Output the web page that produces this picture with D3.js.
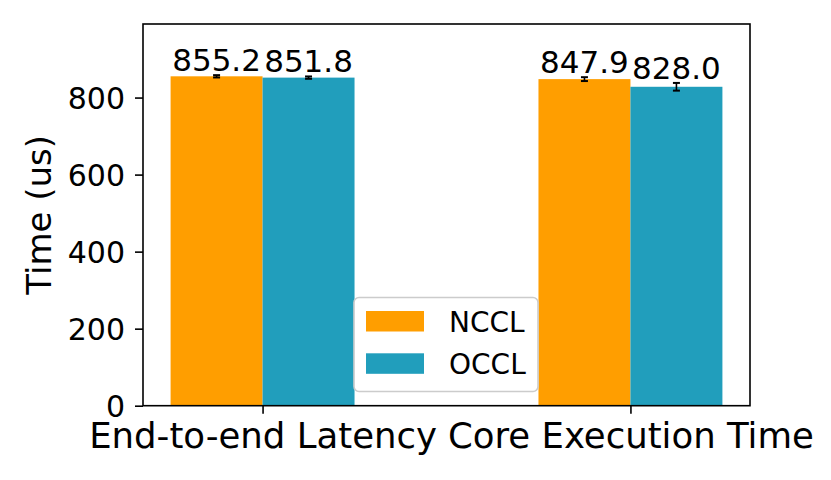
<!DOCTYPE html>
<html>
<head>
<meta charset="utf-8">
<script src="https://cdn.jsdelivr.net/npm/d3@7"></script>
<style>
  body { margin: 0; background: #fff; }
  svg { display: block; font-family: "DejaVu Sans", sans-serif; }
</style>
</head>
<body>
<div id="chart"></div>
<script>
// ---- Data -------------------------------------------------------------
const categories = ['End-to-end Latency', 'Core Execution Time'];
const seriesNames = ['NCCL', 'OCCL'];
const seriesColors = ['#ff9e00', '#219ebc'];
const nccl = [855.2, 847.9];
const ncclErr = [3, 5];
const occl = [851.8, 828.0];
const occlErr = [3, 10];
const yTicks = [0, 200, 400, 600, 800];

const series = [
  { name: seriesNames[0], color: seriesColors[0], values: nccl, errs: ncclErr, offset: -0.125 },
  { name: seriesNames[1], color: seriesColors[1], values: occl, errs: occlErr, offset: 0.125 }
];

// ---- Dimensions -------------------------------------------------------
const dimensions = {
  width: 831,
  height: 480,
  left: 143, right: 750, top: 24, bottom: 405.7
};
const barWidth = 0.25;

const svg = d3.select('#chart')
  .append('svg')
  .attr('width', dimensions.width)
  .attr('height', dimensions.height);

// ---- Scales -----------------------------------------------------------
const xScale = d3.scaleLinear()
  .domain([-0.325, 1.325])
  .range([dimensions.left, dimensions.right]);

const yScale = d3.scaleLinear()
  .domain([0, 991])
  .range([dimensions.bottom, dimensions.top]);

// ---- Bars -------------------------------------------------------------
const bw = xScale(barWidth) - xScale(0);
series.forEach(s => {
  const g = svg.append('g');
  g.selectAll('rect')
    .data(s.values)
    .join('rect')
    .attr('x', (d, i) => xScale(i + s.offset) - bw / 2)
    .attr('y', d => yScale(d))
    .attr('width', bw)
    .attr('height', d => yScale(0) - yScale(d))
    .attr('fill', s.color);

  // error bars
  const eb = g.selectAll('g.err')
    .data(s.values)
    .join('g')
    .attr('stroke', '#000')
    .attr('stroke-width', 1.6);
  eb.append('line')
    .attr('x1', (d, i) => xScale(i + s.offset))
    .attr('x2', (d, i) => xScale(i + s.offset))
    .attr('y1', (d, i) => yScale(d - s.errs[i]))
    .attr('y2', (d, i) => yScale(d + s.errs[i]));
  [-1, 1].forEach(sign => {
    eb.append('line')
      .attr('x1', (d, i) => xScale(i + s.offset) - 3.5)
      .attr('x2', (d, i) => xScale(i + s.offset) + 3.5)
      .attr('y1', (d, i) => yScale(d + sign * s.errs[i]))
      .attr('y2', (d, i) => yScale(d + sign * s.errs[i]))
      .attr('stroke-width', 2);
  });

  // value labels
  g.selectAll('text')
    .data(s.values)
    .join('text')
    .attr('x', (d, i) => xScale(i + s.offset))
    .attr('y', (d, i) => yScale(d + s.errs[i]) - 4)
    .attr('text-anchor', 'middle')
    .attr('font-size', 31)
    .attr('fill', '#000')
    .text(d => d3.format('.1f')(d));
});

// ---- Axes -------------------------------------------------------------
const yAxis = d3.axisLeft(yScale)
  .tickValues(yTicks)
  .tickSize(8)
  .tickPadding(10)
  .tickSizeOuter(0);
const yAxisGroup = svg.append('g')
  .attr('transform', `translate(${dimensions.left},0)`)
  .call(yAxis);
yAxisGroup.select('.domain').remove();
yAxisGroup.selectAll('.tick line').attr('stroke-width', 1.6);
yAxisGroup.selectAll('.tick text')
  .attr('font-size', 30)
  .attr('font-family', '"DejaVu Sans", sans-serif')
  .attr('dy', '0.36em');

const xAxis = d3.axisBottom(xScale)
  .tickValues(categories.map((c, i) => i))
  .tickFormat(i => categories[i])
  .tickSize(8)
  .tickPadding(9)
  .tickSizeOuter(0);
const xAxisGroup = svg.append('g')
  .attr('transform', `translate(0,${dimensions.bottom})`)
  .call(xAxis);
xAxisGroup.select('.domain').remove();
xAxisGroup.selectAll('.tick line').attr('stroke-width', 1.6);
xAxisGroup.selectAll('.tick text')
  .attr('font-size', 35.5)
  .attr('font-family', '"DejaVu Sans", sans-serif');

// frame
svg.append('rect')
  .attr('x', dimensions.left)
  .attr('y', dimensions.top)
  .attr('width', dimensions.right - dimensions.left)
  .attr('height', dimensions.bottom - dimensions.top)
  .attr('fill', 'none')
  .attr('stroke', '#000')
  .attr('stroke-width', 1.6);

// y label
svg.append('text')
  .attr('transform', `translate(51,${(dimensions.top + dimensions.bottom) / 2}) rotate(-90)`)
  .attr('text-anchor', 'middle')
  .attr('font-size', 34)
  .attr('fill', '#000')
  .text('Time (us)');

// ---- Legend -----------------------------------------------------------
const legend = svg.append('g').attr('transform', 'translate(354,297.5)');
legend.append('rect')
  .attr('width', 184)
  .attr('height', 94)
  .attr('rx', 5)
  .attr('fill', '#fff')
  .attr('fill-opacity', 0.8)
  .attr('stroke', '#cccccc')
  .attr('stroke-width', 1.6);
const items = legend.selectAll('g.item')
  .data(series)
  .join('g')
  .attr('transform', (d, i) => `translate(12,${13.5 + i * 42.3})`);
items.append('rect')
  .attr('width', 58)
  .attr('height', 20.5)
  .attr('fill', d => d.color);
items.append('text')
  .attr('x', 83)
  .attr('y', 20.5)
  .attr('font-size', 28)
  .attr('fill', '#000')
  .text(d => d.name);
</script>
</body>
</html>
